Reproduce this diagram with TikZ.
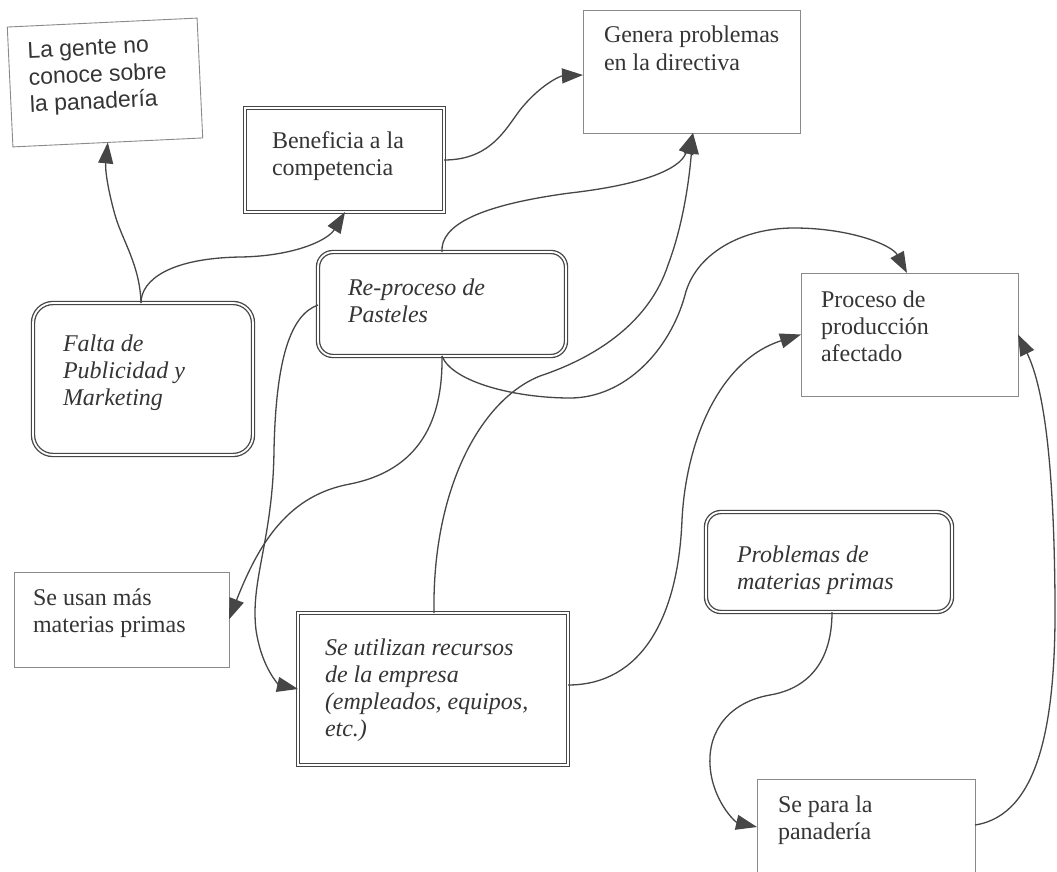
\documentclass[tikz,border=0pt]{standalone}
\usepackage{fontspec}
\setmainfont{Liberation Serif}
\newfontfamily\gentefont{Liberation Sans}
\usetikzlibrary{arrows.meta}

\definecolor{ink}{HTML}{353535}
\definecolor{edge}{HTML}{464646}
\definecolor{thinedge}{HTML}{8A8A8A}

% fixed-size text block: width, height, first baseline from top, left indent, text
\newcommand{\boxtext}[5]{\parbox[t][#2][t]{#1}{\raggedright\leftskip=#4\relax\rule{0pt}{#3}#5}}

\tikzset{
  base/.style={inner sep=0pt, outer sep=0pt, anchor=north west, text=ink},
  plainbox/.style={base, draw=thinedge, line width=0.9pt},
  dblbox/.style={base, draw=edge, line width=1.3pt, double=white, double distance=1.8pt},
  roundbox/.style={dblbox, rounded corners=#1},
  link/.style={draw=edge, line width=1.3pt, -{Triangle[length=21pt,width=15pt]}},
  serif/.style={font=\fontsize{24}{27}\selectfont},
  ital/.style={font=\fontsize{24}{27}\selectfont\itshape},
}

\begin{document}
\begin{tikzpicture}[x=1pt, y=-1pt]
\useasboundingbox[fill=white] (0,0) rectangle (1057,872);
\begin{scope}
\clip (0,0) rectangle (1057,872);

% boxes
\node[plainbox, rotate=2.7, anchor=center, font=\gentefont\fontsize{23}{27}\selectfont] (gente) at (105,82.5)
  {\boxtext{190pt}{120pt}{32pt}{19pt}{La gente no\\conoce sobre\\la panadería}};
\node[dblbox, serif] (benef) at (245,108)
  {\boxtext{199pt}{104pt}{41pt}{27pt}{Beneficia a la\\competencia}};
\node[plainbox, font=\fontsize{24}{28}\selectfont] (genera) at (583,10)
  {\boxtext{217pt}{123pt}{33pt}{21pt}{Genera problemas\\en la directiva}};
\node[roundbox=20pt, ital] (falta) at (33,303)
  {\boxtext{220pt}{152pt}{48pt}{30pt}{Falta de\\Publicidad y\\Marketing}};
\node[roundbox=15pt, ital] (reproc) at (318,252)
  {\boxtext{248pt}{104pt}{43pt}{30pt}{Re-proceso de\\Pasteles}};
\node[plainbox, serif] (proceso) at (801,273)
  {\boxtext{217pt}{123pt}{34pt}{20pt}{Proceso de\\producción\\afectado}};
\node[plainbox, serif] (usan) at (14,572)
  {\boxtext{215pt}{95pt}{33pt}{19pt}{Se usan más\\materias primas}};
\node[dblbox, ital] (utiliz) at (298,613)
  {\boxtext{270pt}{152pt}{42pt}{27pt}{Se utilizan recursos\\de la empresa\\(empleados, equipos,\\etc.)}};
\node[roundbox=15pt, ital] (problemas) at (706,512)
  {\boxtext{246pt}{100pt}{50pt}{31pt}{Problemas de\\materias primas}};
\node[plainbox, serif] (para) at (757,779)
  {\boxtext{218pt}{100pt}{33pt}{21pt}{Se para la\\panadería}};

% connectors
\draw[link] ([xshift=108pt]falta.north west) .. controls (140,265) and (122,240) .. (115,215)
  .. controls (108,190) and (105,170) .. (gente.south);
\draw[link] ([xshift=108pt]falta.north west) .. controls (141,280) and (170,258) .. (241,257)
  .. controls (295,256) and (328,240) .. ([xshift=100pt]benef.south west);
\draw[link] (benef.east) .. controls (490,160) and (505,130) .. (520,110)
  .. controls (540,85) and (560,76) .. ([yshift=-3.5pt]genera.west);
\draw[link] ([xshift=124pt]reproc.north west) .. controls (440,225) and (480,205) .. (570,193)
  .. controls (640,185) and (680,170) .. ([xshift=110pt]genera.south west);
\draw[link] ([xshift=136pt]utiliz.north west) .. controls (432,490) and (480,400) .. (540,376)
  .. controls (600,356) and (650,320) .. (668,265)
  .. controls (685,220) and (690,170) .. ([xshift=110pt]genera.south west);
\draw[link] ([xshift=124pt]reproc.south west) .. controls (452,382) and (515,398) .. (570,398)
  .. controls (625,398) and (670,350) .. (685,295)
  .. controls (695,255) and (740,228) .. (794,228)
  .. controls (850,228) and (892,245) .. ([xshift=106pt]proceso.north west);
\draw[link] ([yshift=-53pt]reproc.north west) .. controls (290,315) and (276,360) .. (274,450)
  .. controls (273,540) and (250,580) .. (256,630)
  .. controls (262,670) and (280,685) .. (utiliz.west);
\draw[link] ([xshift=124pt]reproc.south west) .. controls (443,420) and (420,470) .. (350,484)
  .. controls (290,495) and (260,540) .. (usan.east);
\draw[link] ([yshift=4pt]utiliz.east) .. controls (640,685) and (678,620) .. (682,520)
  .. controls (686,440) and (720,360) .. (proceso.west);
\draw[link] ([xshift=126pt]problemas.south west) .. controls (832,670) and (800,690) .. (770,695)
  .. controls (730,702) and (708,730) .. (710,765)
  .. controls (712,800) and (735,822) .. ([yshift=2pt]para.west);
\draw[link] ([yshift=4pt]para.east) .. controls (1040,815) and (1056,720) .. (1055,600)
  .. controls (1054,470) and (1045,390) .. (proceso.east);
\end{scope}
\end{tikzpicture}
\end{document}
